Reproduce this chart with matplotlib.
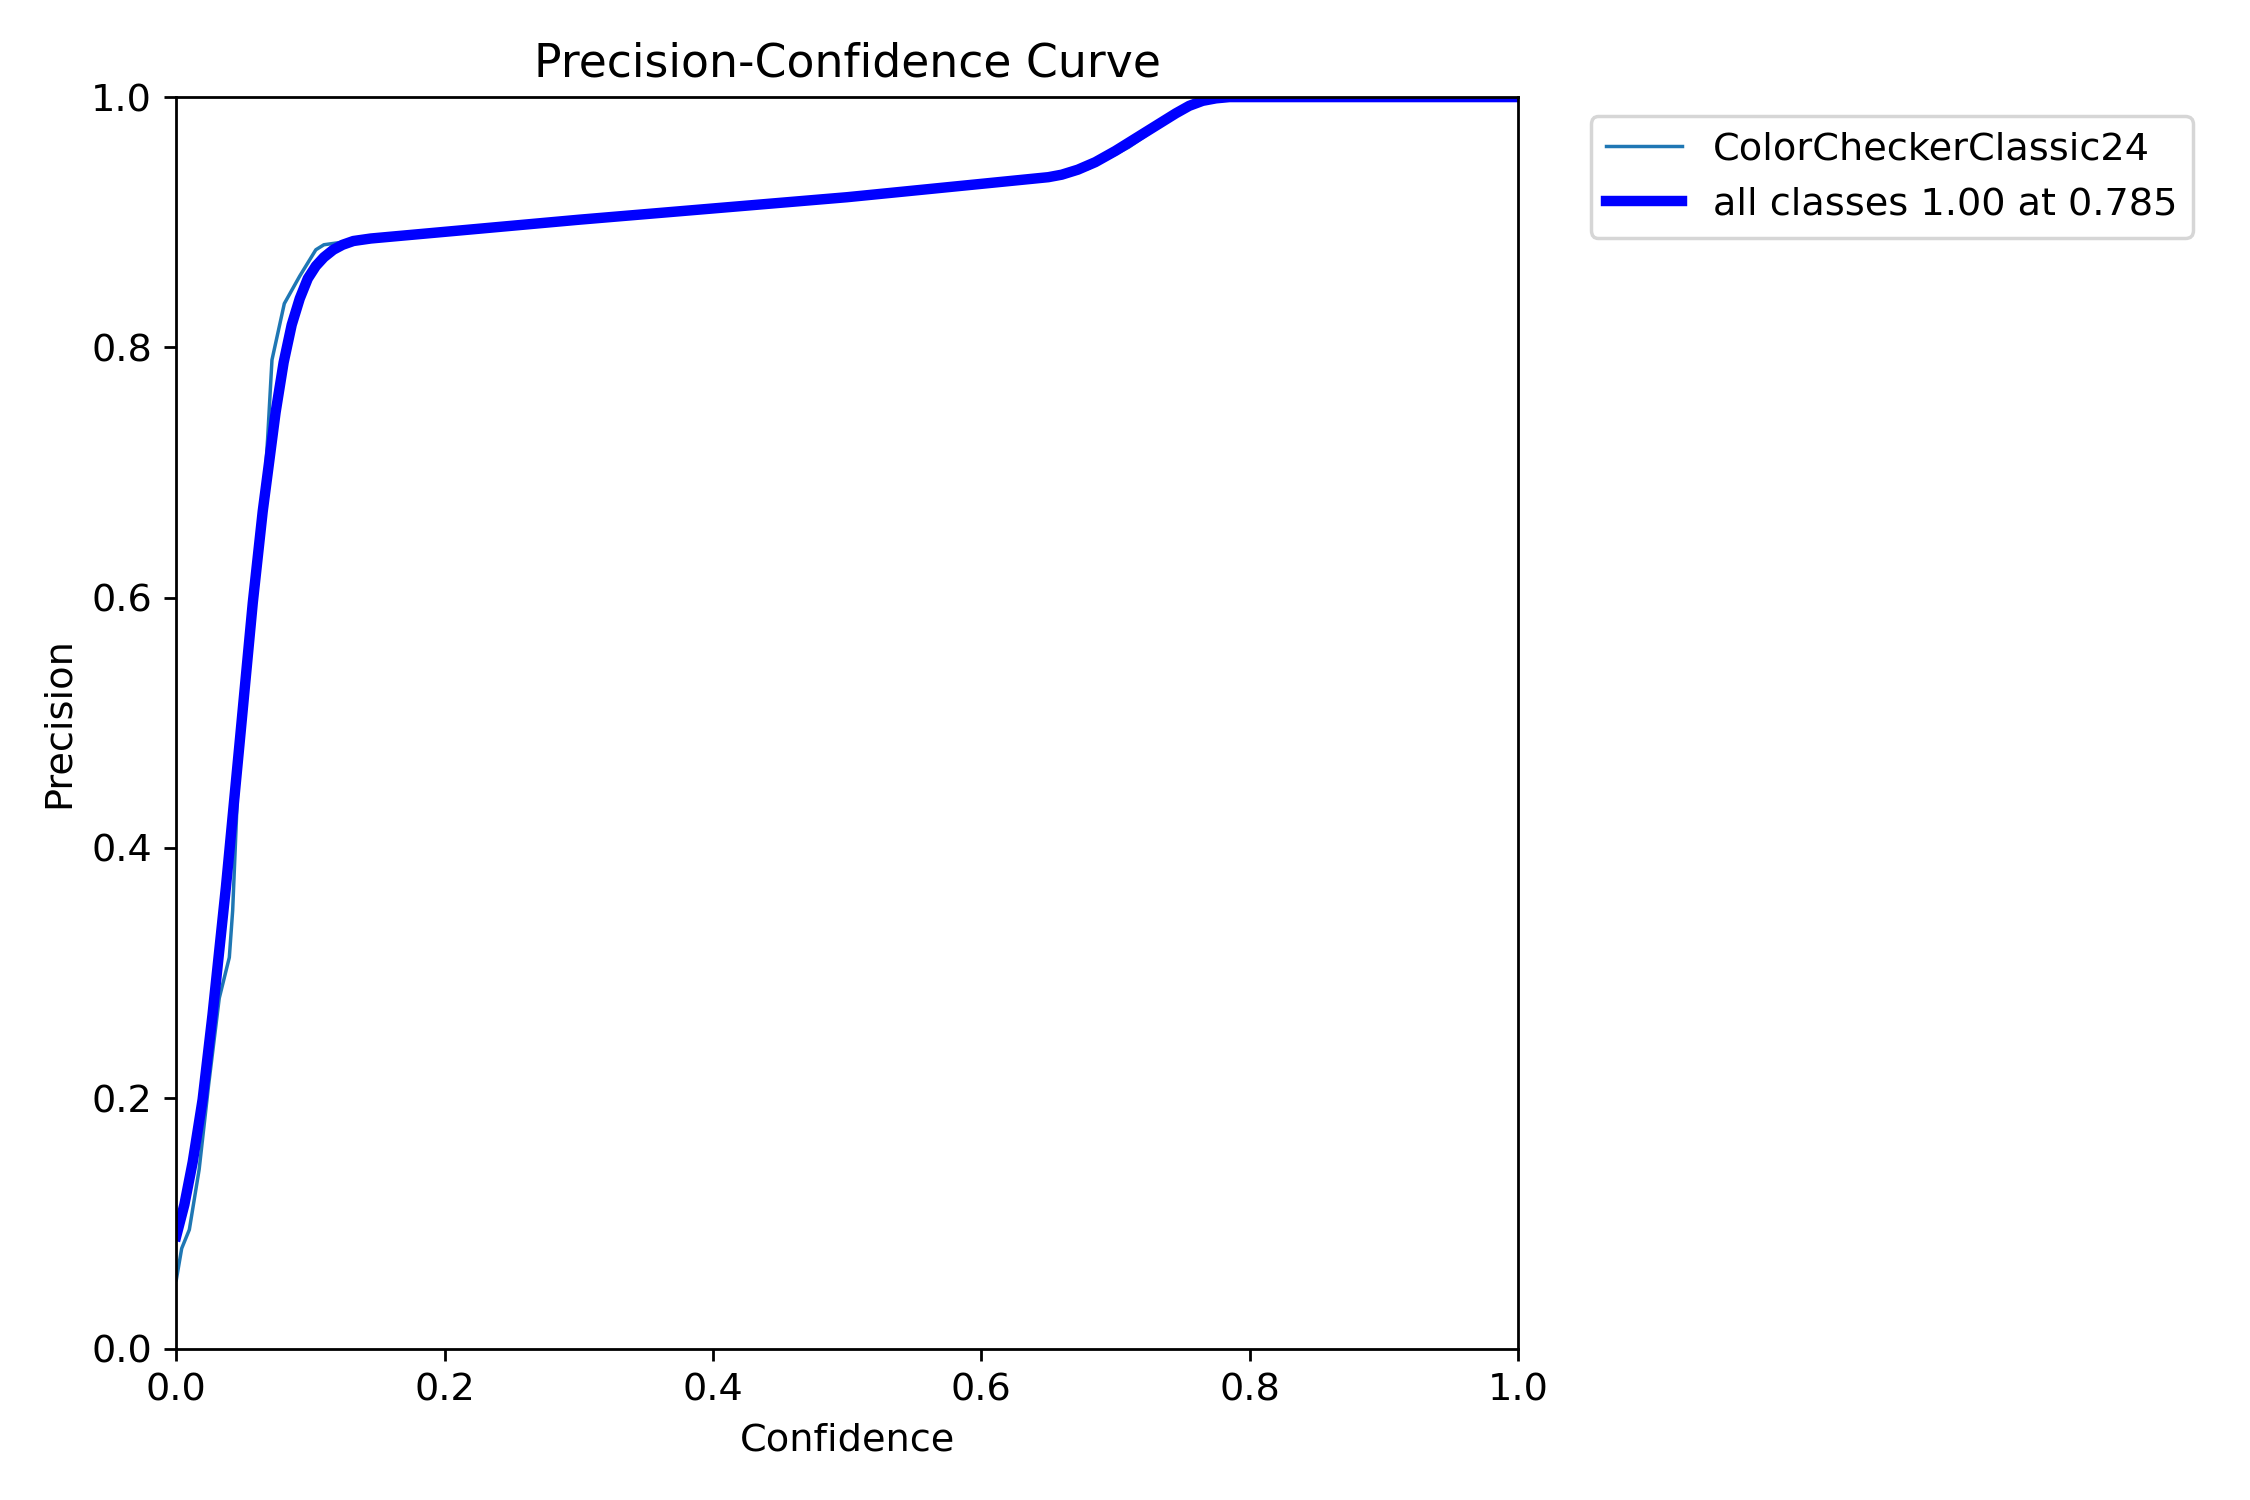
import matplotlib
matplotlib.use('Agg')
from matplotlib import pyplot as plt

plt.rcParams['font.size'] = 11

# raw precision for the single class (thin line)
cls_conf = [0.0, 0.004, 0.0097, 0.017, 0.024, 0.032, 0.0395, 0.042, 0.047, 0.057, 0.0644,
            0.068, 0.0713, 0.0805, 0.092, 0.104, 0.11, 0.13, 0.3, 0.5, 0.65, 0.68, 0.71,
            0.74, 0.76, 0.78, 1.0]
cls_prec = [0.055, 0.08, 0.095, 0.143, 0.21, 0.28, 0.3125, 0.35, 0.48, 0.595, 0.668,
            0.726, 0.79, 0.835, 0.857, 0.878, 0.882, 0.885, 0.902, 0.92, 0.935, 0.943,
            0.96, 0.982, 0.995, 1.0, 1.0]

# smoothed mean over classes (thick line)
all_conf = [0.0, 0.006, 0.0122, 0.0196, 0.027, 0.037, 0.047, 0.057, 0.0644, 0.074, 0.08,
            0.086, 0.092, 0.098, 0.104, 0.11, 0.117, 0.124, 0.132, 0.145, 0.3, 0.5, 0.65,
            0.66, 0.672, 0.685, 0.7, 0.715, 0.73, 0.745, 0.755, 0.765, 0.775, 0.785, 1.0]
all_prec = [0.09, 0.115, 0.149, 0.199, 0.267, 0.369, 0.482, 0.596, 0.669, 0.748, 0.788,
            0.818, 0.839, 0.855, 0.865, 0.872, 0.878, 0.882, 0.885, 0.887, 0.902, 0.92, 0.936,
            0.938, 0.942, 0.948, 0.957, 0.967, 0.977, 0.987, 0.993, 0.997, 0.999, 1.0, 1.0]

fig, ax = plt.subplots(1, 1, figsize=(9, 6), tight_layout=True)
ax.plot(cls_conf, cls_prec, linewidth=1, label='ColorCheckerClassic24')
ax.plot(all_conf, all_prec, linewidth=3, color='blue', label='all classes 1.00 at 0.785')
ax.set_xlabel('Confidence')
ax.set_ylabel('Precision')
ax.set_xlim(0, 1)
ax.set_ylim(0, 1)
ax.legend(bbox_to_anchor=(1.04, 1), loc='upper left')
ax.set_title('Precision-Confidence Curve')
fig.savefig('out.png', dpi=250)
